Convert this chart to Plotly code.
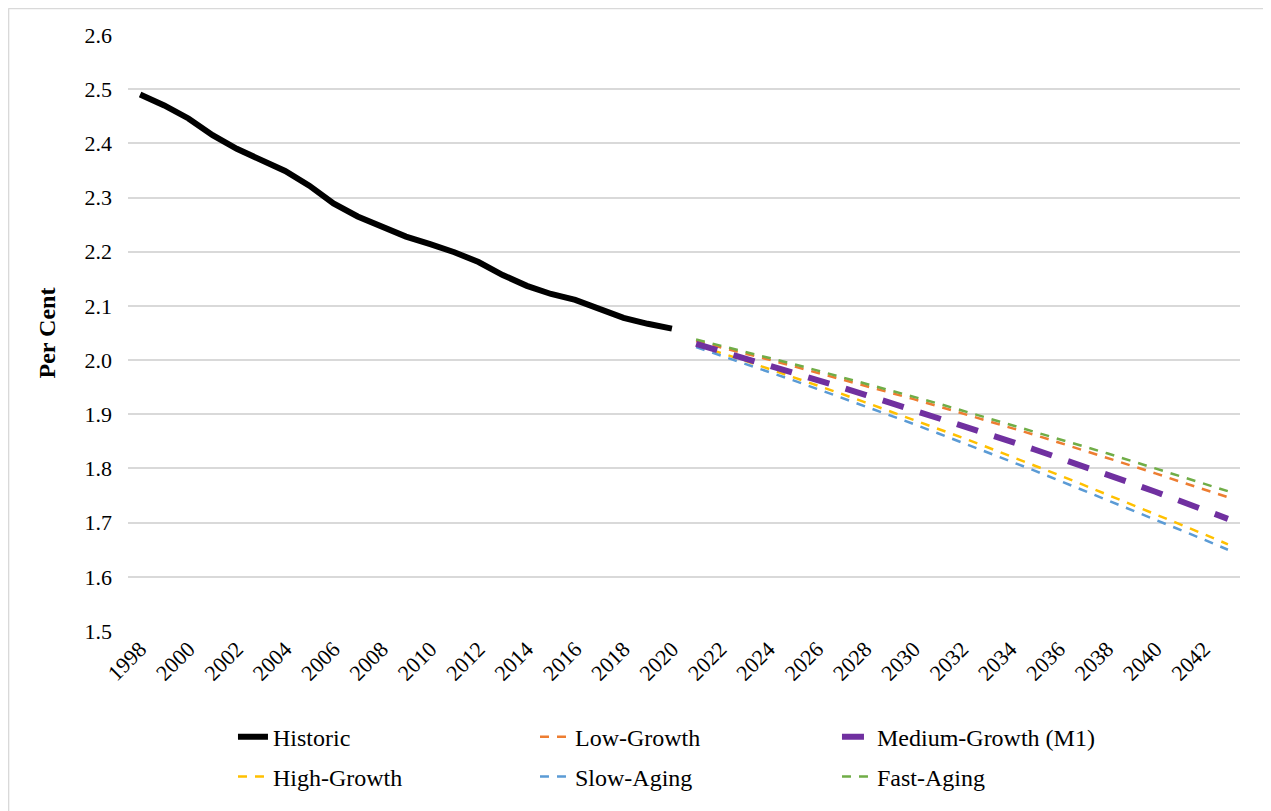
import plotly.graph_objects as go

# data
hist_years = list(range(1998, 2021))
historic = [2.490, 2.470, 2.446, 2.415, 2.390, 2.371, 2.349, 2.322, 2.289, 2.265,
            2.245, 2.228, 2.214, 2.199, 2.181, 2.157, 2.137, 2.122, 2.111, 2.095,
            2.078, 2.067, 2.058]

proj_years = list(range(2021, 2044))
low_growth = [2.035, 2.024, 2.013, 2.001, 1.989, 1.977, 1.965, 1.953, 1.941, 1.928,
              1.915, 1.902, 1.889, 1.875, 1.862, 1.848, 1.834, 1.820, 1.805, 1.791,
              1.776, 1.762, 1.747]
medium_growth = [2.030, 2.017, 2.004, 1.991, 1.977, 1.964, 1.950, 1.936, 1.922, 1.908,
                 1.894, 1.880, 1.865, 1.850, 1.835, 1.820, 1.804, 1.789, 1.773, 1.757,
                 1.740, 1.724, 1.707]
high_growth = [2.028, 2.014, 1.999, 1.984, 1.969, 1.954, 1.938, 1.922, 1.906, 1.890,
               1.874, 1.857, 1.840, 1.823, 1.806, 1.788, 1.770, 1.752, 1.734, 1.716,
               1.697, 1.679, 1.660]
slow_aging = [2.024, 2.009, 1.994, 1.978, 1.963, 1.947, 1.931, 1.915, 1.899, 1.882,
              1.865, 1.848, 1.831, 1.814, 1.796, 1.778, 1.760, 1.742, 1.724, 1.706,
              1.687, 1.669, 1.650]
fast_aging = [2.038, 2.027, 2.016, 2.004, 1.993, 1.981, 1.969, 1.957, 1.945, 1.933,
              1.920, 1.907, 1.894, 1.881, 1.868, 1.855, 1.841, 1.828, 1.814, 1.800,
              1.786, 1.772, 1.758]

tick_years = list(range(1998, 2043, 2))
y_ticks = [1.5, 1.6, 1.7, 1.8, 1.9, 2.0, 2.1, 2.2, 2.3, 2.4, 2.5, 2.6]

FONT = "Times New Roman"
thin_dash = "9px,8px"

fig = go.Figure()
fig.add_trace(go.Scatter(x=hist_years, y=historic, name="Historic", mode="lines",
                         line=dict(color="black", width=6), legend="legend"))
fig.add_trace(go.Scatter(x=proj_years, y=low_growth, name="Low-Growth", mode="lines",
                         line=dict(color="#ED7D31", width=2.5, dash=thin_dash), legend="legend"))
fig.add_trace(go.Scatter(x=proj_years, y=high_growth, name="High-Growth", mode="lines",
                         line=dict(color="#FFC000", width=2.5, dash=thin_dash), legend="legend2"))
fig.add_trace(go.Scatter(x=proj_years, y=slow_aging, name="Slow-Aging", mode="lines",
                         line=dict(color="#5B9BD5", width=2.5, dash=thin_dash), legend="legend2"))
fig.add_trace(go.Scatter(x=proj_years, y=fast_aging, name="Fast-Aging", mode="lines",
                         line=dict(color="#70AD47", width=2.5, dash=thin_dash), legend="legend2"))
fig.add_trace(go.Scatter(x=proj_years, y=medium_growth, name="Medium-Growth (M1)", mode="lines",
                         line=dict(color="#7030A0", width=6, dash="22px,17px"), legend="legend"))

order = ["Historic", "Low-Growth", "Medium-Growth (M1)", "High-Growth", "Slow-Aging", "Fast-Aging"]
for tr in fig.data:
    tr.legendrank = order.index(tr.name) + 1

leg = dict(orientation="h", x=0.0944, xanchor="left", yanchor="middle",
           traceorder="normal", entrywidth=257, itemwidth=30,
           font=dict(family=FONT, size=24, color="black"), bgcolor="rgba(0,0,0,0)")

fig.update_layout(
    width=1263, height=803,
    margin=dict(l=120, r=31, t=27, b=175),
    paper_bgcolor="white", plot_bgcolor="white",
    font=dict(family=FONT, size=24, color="black"),
    showlegend=True,
    legend=dict(leg, y=-0.178),
    legend2=dict(leg, y=-0.2446),
    shapes=[
        dict(type="line", xref="paper", yref="paper", x0=-0.1074, x1=-0.1074, y0=-0.5, y1=1.045,
             line=dict(color="#d9d9d9", width=1.5)),
        dict(type="line", xref="paper", yref="paper", x0=-0.1074, x1=1.2, y0=1.0445, y1=1.0445,
             line=dict(color="#d9d9d9", width=1.5)),
    ],
)

fig.update_xaxes(range=[1997.5, 2043.5], tickmode="array", tickvals=tick_years,
                 ticktext=[str(y) for y in tick_years], tickangle=-45,
                 showgrid=False, zeroline=False, showline=False, ticks="",
                 tickfont=dict(family=FONT, size=22))
fig.update_yaxes(range=[1.5, 2.6], tickmode="array", tickvals=y_ticks,
                 ticktext=[f"{v:.1f}" for v in y_ticks],
                 showgrid=True, gridcolor="#d9d9d9", gridwidth=1.5, zeroline=False,
                 showline=False, ticks="", ticklabelstandoff=15,
                 tickfont=dict(family=FONT, size=22),
                 title=dict(text="<b>Per Cent</b>", font=dict(family=FONT, size=24), standoff=22))

fig.write_html("out.html")
